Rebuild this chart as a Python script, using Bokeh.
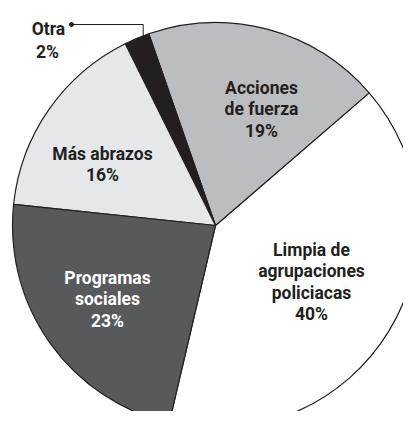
import numpy as np
from bokeh.plotting import figure
from bokeh.models import Range1d
from bokeh.core.properties import value
from bokeh.embed import file_html
from bokeh.resources import INLINE

# data
categories = ["Limpia de agrupaciones policiacas", "Acciones de fuerza", "Otra", "Más abrazos", "Programas sociales"]
label_lines = [["Limpia de", "agrupaciones", "policiacas"], ["Acciones", "de fuerza"], ["Otra"], ["Más abrazos"], ["Programas", "sociales"]]
percents = [40, 19, 2, 16, 23]
colors = ["#ffffff", "#bcbdc0", "#231f20", "#e6e7e8", "#58595b"]
text_colors = ["#231f20", "#231f20", "#231f20", "#231f20", "#ffffff"]

W, H = 403, 411
p = figure(width=W, height=H, output_backend="svg", toolbar_location=None,
           x_range=Range1d(0, W), y_range=Range1d(-H, 0),
           min_border=0, outline_line_color=None)
p.axis.visible = False
p.grid.visible = False
p.background_fill_color = "white"
p.border_fill_color = "white"

cx, cy, r = 215, -225, 203
start0 = np.deg2rad(-103.2)
frac = np.array(percents) / sum(percents)
ends = start0 + np.cumsum(frac) * 2 * np.pi
starts = ends - frac * 2 * np.pi

p.wedge(x=cx, y=cy, radius=r, start_angle=starts, end_angle=ends,
        fill_color=colors, line_color="#231f20", line_width=1.2)

font = value("Roboto")
fs = "17.5px"
lh = 21.5
# label anchor (first baseline) positions
anchors = {0: (311, -249), 1: (261, -87), 3: (102, -153), 4: (107, -277)}
for i, (ax, ay) in anchors.items():
    lines = label_lines[i] + [f"{percents[i]}%"]
    ys = [ay - k * lh for k in range(len(lines))]
    p.text(x=[ax] * len(lines), y=ys, text=lines, text_font=font, text_font_size=fs,
           text_font_style="bold", text_align="center", text_baseline="alphabetic",
           text_color=text_colors[i])

# Otra label with leader
i = 2
p.text(x=[48, 47], y=[-28, -51], text=[label_lines[i][0], f"{percents[i]}%"], text_font=font,
       text_font_size=fs, text_font_style="bold", text_align="center",
       text_baseline="alphabetic", text_color=text_colors[i])
mid = (starts[i] + ends[i]) / 2 - 0.03
px = cx + (r - 2) * np.cos(mid)
py = cy + (r - 2) * np.sin(mid)
p.line(x=[71, px, px], y=[-24, -24, py], line_color="#231f20", line_width=1)
p.scatter(x=[71], y=[-24], size=4, color="#231f20")

open("out.html", "w").write(file_html(p, INLINE))
